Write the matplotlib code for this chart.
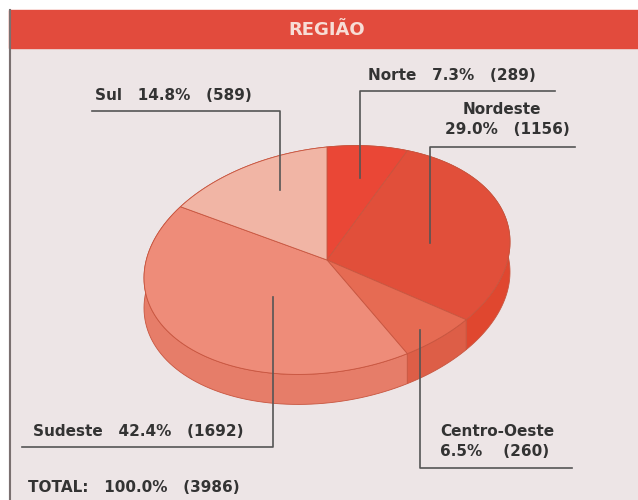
import numpy as np
import matplotlib.pyplot as plt
from matplotlib.patches import Polygon, Rectangle

plt.rcParams['font.family'] = ['Liberation Sans Narrow', 'DejaVu Sans']

# dados (Norte -> sentido horario a partir do topo)
regioes = ['Norte', 'Nordeste', 'Centro-Oeste', 'Sudeste', 'Sul']
contagens = [289, 1156, 260, 1692, 589]
percentuais = ['7.3%', '29.0%', '6.5%', '42.4%', '14.8%']
total_pct = '100.0%'
total = 3986

cores_topo = ['#ea4736', '#e14f3a', '#e66b53', '#ee8c79', '#f1b5a5']
cores_lado = ['#d93c2c', '#e0472f', '#dd5e47', '#e67d69', '#e8a493']

# geometria do "pie 3d" (coordenadas em pixels)
cx, cy = 327, 260
a, b, k = 183, 113, 18
prof = 30


def ponto(theta):
    u, v = np.sin(theta), np.cos(theta)
    return cx + a * u, cy - b * v - k * u


fig = plt.figure(figsize=(6.38, 5.0), dpi=100)
ax = fig.add_axes([0, 0, 1, 1])
ax.set_xlim(0, 638)
ax.set_ylim(500, 0)
ax.axis('off')
fig.patch.set_facecolor('white')

# fundo e faixa do titulo
ax.add_patch(Rectangle((9, 48), 629, 452, color='#ede5e6', zorder=0))
ax.add_patch(Rectangle((9, 10), 629, 38, color='#e24b3d', zorder=1))
ax.plot([10, 10], [10, 500], color='#7a7070', lw=1.5, zorder=2)
ax.text(327, 30, 'REGIÃO', color='#f7ddd6', fontsize=13, fontweight='bold',
        ha='center', va='center', zorder=3)

fracs = np.array(contagens) / sum(contagens)
limites = np.concatenate([[0], np.cumsum(fracs)]) * 2 * np.pi

# lados primeiro, depois topos
for i in range(len(regioes)):
    t = np.linspace(limites[i], limites[i + 1], 80)
    xs, ys = ponto(t)
    pts = np.column_stack([np.concatenate([xs, xs[::-1]]),
                           np.concatenate([ys, ys[::-1] + prof])])
    ax.add_patch(Polygon(pts, closed=True, facecolor=cores_lado[i],
                         edgecolor='#c8553f', lw=0.6, zorder=4))

for i in range(len(regioes)):
    t = np.linspace(limites[i], limites[i + 1], 80)
    xs, ys = ponto(t)
    pts = np.column_stack([np.concatenate([[cx], xs]), np.concatenate([[cy], ys])])
    ax.add_patch(Polygon(pts, closed=True, facecolor=cores_topo[i],
                         edgecolor='#c8553f', lw=0.6, zorder=5))

txt = dict(color='#333333', fontsize=11, fontweight='bold', zorder=7)
lin = dict(color='#555555', lw=1.2, zorder=6)

# Sul
ax.text(95, 96, f'{regioes[4]}   {percentuais[4]}   ({contagens[4]})', va='center', **txt)
ax.plot([92, 280, 280], [111, 111, 190], **lin)
# Norte
ax.text(368, 75, f'{regioes[0]}   {percentuais[0]}   ({contagens[0]})', va='center', **txt)
ax.plot([555, 360, 360], [91, 91, 178], **lin)
# Nordeste
ax.text(502, 110, regioes[1], ha='center', va='center', **txt)
ax.text(570, 129, f'{percentuais[1]}   ({contagens[1]})', ha='right', va='center', **txt)
ax.plot([575, 430, 430], [147, 147, 243], **lin)
# Sudeste
ax.text(33, 432, f'{regioes[3]}   {percentuais[3]}   ({contagens[3]})', va='center', **txt)
ax.plot([22, 273, 273], [447, 447, 297], **lin)
# Centro-Oeste
ax.text(440, 431, regioes[2], va='center', **txt)
ax.text(440, 451, f'{percentuais[2]}    ({contagens[2]})', va='center', **txt)
ax.plot([420, 420, 572], [330, 468, 468], **lin)
# total
ax.text(28, 488, f'TOTAL:   {total_pct}   ({total})', va='center', **txt)

fig.savefig('out.png', dpi=100)
